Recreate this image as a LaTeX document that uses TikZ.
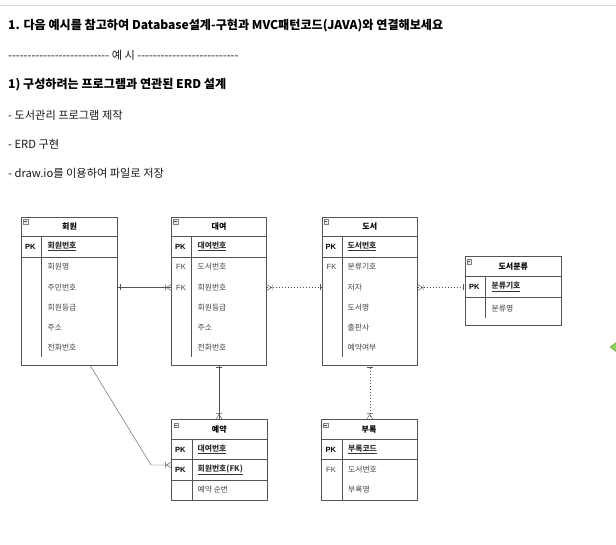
\documentclass[tikz,border=0pt]{standalone}
\usepackage{fontspec}
\setmainfont{Noto Sans CJK KR}
\newfontfamily\keyfont{Liberation Sans}
\usepackage{tikz}
\definecolor{linegray}{HTML}{555555}
\definecolor{textgray}{HTML}{444444}
\definecolor{hovergreen}{HTML}{8CD45C}
\newcommand\dashrun{\foreach \k in {1,...,26}{-\kern0pt}}
\tikzset{
	entity/.style={
		shape = rectangle,
		draw = linegray,
		fill = white,
		inner sep = 0
	},
	sep/.style={
		draw = linegray
	},
	icon/.style={
		shape = rectangle,
		draw = gray,
		fill = gray!15,
		minimum size = 4.5,
		inner sep = 0,
		path picture={\draw[gray!60!black] ([xshift=1]path picture bounding box.west) -- ([xshift=-1]path picture bounding box.east);}
	},
	title/.style={
		inner sep = 0,
		font = \fontsize{8}{9}\selectfont\bfseries
	},
	field/.style={
		anchor = west,
		inner sep = 0,
		text = textgray,
		font = \fontsize{7.8}{9}\selectfont
	},
	pkfield/.style={
		field,
		text = black!80,
		font = \fontsize{7.8}{9}\selectfont\bfseries
	},
	key/.style={
		anchor = west,
		inner sep = 0,
		font = \keyfont\fontsize{7.5}{9}\selectfont\bfseries
	},
	fk/.style={
		anchor = west,
		inner sep = 0,
		text = textgray,
		font = \keyfont\fontsize{7.5}{9}\selectfont
	},
	head/.style={
		anchor = west,
		inner sep = 0,
		font = \fontsize{12.1}{14}\selectfont\bfseries
	},
	line/.style={
		anchor = west,
		inner sep = 0,
		text = black!90,
		font = \fontsize{11.2}{13}\selectfont
	},
	link/.style={
		draw = linegray
	},
	dots/.style={
		draw = linegray,
		dash pattern = on 1pt off 2pt
	},
	onemark/.pic={\draw[linegray] (-2,-3) -- (-2,3);},
	manymark/.pic={\draw[linegray] (-5,0) -- (0,-3) (-5,0) -- (0,3) (-6,-3) -- (-6,3);},
}

\begin{document}
\begin{tikzpicture}[x=1pt, y=-1pt]
    \path[use as bounding box, fill=white] (0,0) rectangle (616,545);
    \draw[gray!30] (0,5.5) -- (616,5.5);

    \node[head] (q1) at (8,26) {1. 다음 예시를 참고하여 Database설계-구현과 MVC패턴코드(JAVA)와 연결해보세요};
    \node[line] (ex) at (8,55.5) {\dashrun{} 예 시 \dashrun};
    \node[head] (q2) at (8,85) {1) 구성하려는 프로그램과 연관된 ERD 설계};
    \node[line] (l1) at (8,115) {- 도서관리 프로그램 제작};
    \node[line] (l2) at (8,144) {- ERD 구현};
    \node[line] (l3) at (8,173) {- draw.io를 이용하여 파일로 저장};

    \node[entity, minimum width=96, minimum height=148] (member) at (69.5,291) {};
    \node[icon] (member-i) at (25.5,221.5) {};
    \node[title] (member-t) at (69.5,226.5) {회원};
    \draw[sep] (21.5,236.5) -- (117.5,236.5);
    \draw[sep] (21.5,257) -- (117.5,257);
    \draw[sep] (41.5,236.5) -- (41.5,357);
    \node[key] at (25,246.5) {PK};
    \node[pkfield] (member-pk) at (47.5,246.5) {\underline{회원번호}};
    \foreach \y/\t [count=\i] in {267/회원명, 287.5/주민번호, 307.5/회원등급, 327.5/주소, 347.5/전화번호}{
      \node[field] (member-r\i) at (47.5,\y) {\t};
    }

    \node[entity, minimum width=95, minimum height=148] (rental) at (219,291) {};
    \node[icon] (rental-i) at (175.5,221.5) {};
    \node[title] (rental-t) at (219,226.5) {대여};
    \draw[sep] (171.5,236.5) -- (266.5,236.5);
    \draw[sep] (171.5,257) -- (266.5,257);
    \draw[sep] (191.5,236.5) -- (191.5,357);
    \node[key] at (175,246.5) {PK};
    \node[pkfield] (rental-pk) at (197.5,246.5) {\underline{대여번호}};
    \node[fk] at (176,267) {FK};
    \node[fk] at (176,287.5) {FK};
    \foreach \y/\t [count=\i] in {267/도서번호, 287.5/회원번호, 307.5/회원등급, 327.5/주소, 347.5/전화번호}{
      \node[field] (rental-r\i) at (197.5,\y) {\t};
    }

    \node[entity, minimum width=95.5, minimum height=148] (book) at (369.75,291) {};
    \node[icon] (book-i) at (326,221.5) {};
    \node[title] (book-t) at (369.75,226.5) {도서};
    \draw[sep] (322,236.5) -- (417.5,236.5);
    \draw[sep] (322,257) -- (417.5,257);
    \draw[sep] (342,236.5) -- (342,357);
    \node[key] at (325.5,246.5) {PK};
    \node[pkfield] (book-pk) at (347.5,246.5) {\underline{도서번호}};
    \node[fk] at (326.5,267) {FK};
    \foreach \y/\t [count=\i] in {267/분류기호, 287.5/저자, 307.5/도서명, 327.5/출판사, 347.5/예약여부}{
      \node[field] (book-r\i) at (347.5,\y) {\t};
    }

    \node[entity, minimum width=96.5, minimum height=68.5] (category) at (513.25,290.75) {};
    \node[icon] (category-i) at (469,261.5) {};
    \node[title] (category-t) at (513.25,266.5) {도서분류};
    \draw[sep] (465,276.5) -- (561.5,276.5);
    \draw[sep] (465,297.5) -- (561.5,297.5);
    \draw[sep] (485.5,276.5) -- (485.5,318);
    \node[key] at (469,287) {PK};
    \node[pkfield] (category-pk) at (491.5,287) {\underline{분류기호}};
    \node[field] (category-r1) at (491.5,308.5) {분류명};

    \node[entity, minimum width=95.5, minimum height=80.5] (reserve) at (219.25,459.75) {};
    \node[icon] (reserve-i) at (176,425) {};
    \node[title] (reserve-t) at (219.25,429.5) {예약};
    \draw[sep] (171.5,439.5) -- (267,439.5);
    \draw[sep] (171.5,459.5) -- (267,459.5);
    \draw[sep] (171.5,480) -- (267,480);
    \draw[sep] (192,439.5) -- (192,500);
    \node[key] at (175,449.5) {PK};
    \node[key] at (175,470) {PK};
    \node[pkfield] (reserve-pk1) at (197.5,449.5) {\underline{대여번호}};
    \node[pkfield] (reserve-pk2) at (197.5,470) {\underline{회원번호(FK)}};
    \node[field] (reserve-r1) at (197.5,490) {예약 순번};

    \node[entity, minimum width=96, minimum height=80.5] (appendix) at (369,459.75) {};
    \node[icon] (appendix-i) at (325.5,425) {};
    \node[title] (appendix-t) at (369,429.5) {부록};
    \draw[sep] (321,439.5) -- (417,439.5);
    \draw[sep] (321,459.5) -- (417,459.5);
    \draw[sep] (342,439.5) -- (342,500);
    \node[key] at (325.5,449.5) {PK};
    \node[pkfield] (appendix-pk) at (348,449.5) {\underline{부록코드}};
    \node[fk] at (326,469.5) {FK};
    \node[field] (appendix-r1) at (348,469.5) {도서번호};
    \node[field] (appendix-r2) at (348,489.5) {부록명};

    \draw[link] (member.east |- member-r2) -- (rental.west |- member-r2);
    \pic[rotate=180] at (member.east |- member-r2) {onemark};
    \pic at (rental.west |- member-r2) {manymark};

    \draw[dots] (rental.east |- rental-r2) -- (book.west |- rental-r2);
    \pic[rotate=180] at (rental.east |- rental-r2) {manymark};
    \pic at (book.west |- rental-r2) {onemark};

    \draw[dots] (book.east |- book-r2) -- (category.west |- book-r2);
    \pic[rotate=180] at (book.east |- book-r2) {manymark};
    \pic at (category.west |- book-r2) {onemark};

    \draw[link] (rental.south) -- (rental.south |- reserve.north);
    \pic[rotate=90] at (rental.south) {onemark};
    \pic[rotate=-90] at (rental.south |- reserve.north) {manymark};

    \draw[dots] (book.south) -- (book.south |- appendix.north);
    \pic[rotate=90] at (book.south) {onemark};
    \pic[rotate=-90] at (book.south |- appendix.north) {manymark};

    \coordinate (bend) at (151,465);
    \draw[link] ([xshift=20.5]member.south) -- (bend) -- (bend -| reserve.west);
    \pic at (bend -| reserve.west) {manymark};

    \filldraw[fill=hovergreen, draw=hovergreen!70!black] (610,347) -- (616,342.5) -- (622,347) -- (616,351.5) -- cycle;
\end{tikzpicture}
\end{document}
